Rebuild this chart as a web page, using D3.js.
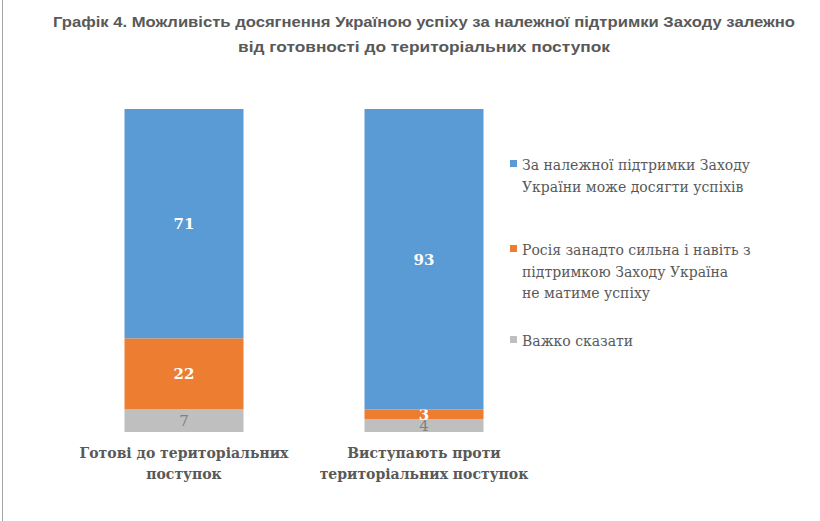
<!DOCTYPE html>
<html>
<head>
<meta charset="utf-8">
<script src="https://cdn.jsdelivr.net/npm/d3@7"></script>
<style>
  body { margin: 0; background: #fff; }
  .serif { font-family: "DejaVu Serif", "Liberation Serif", serif; }
</style>
</head>
<body>
<div id="app"></div>
<script>
// categories (x axis), one line per array entry
const categories = [
  ["Готові до територіальних", "поступок"],
  ["Виступають проти", "територіальних поступок"]
];
const seriesNames = [
  ["За належної підтримки Заходу", "України може досягти успіхів"],
  ["Росія занадто сильна і навіть з", "підтримкою Заходу Україна", "не матиме успіху"],
  ["Важко сказати"]
];
const successVals = [71, 93];
const russiaVals  = [22, 3];
const hardVals    = [7, 4];
const colors = ["#5b9bd5", "#ed7d31", "#bfbfbf"];
const titleLines = [
  "Графік 4. Можливість досягнення Україною успіху за належної підтримки Заходу залежно",
  "від готовності до територіальних поступок"
];

const W = 820, H = 521;
const m = { t: 109, b: 89, l: 125, r: 337 };

const svg = d3.select("#app").append("svg")
    .attr("width", W).attr("height", H);

svg.append("rect").attr("width", W).attr("height", H).attr("fill", "#fff");
// frame on the left edge
svg.append("line").attr("x1", 2.5).attr("x2", 2.5).attr("y1", 0).attr("y2", H)
    .attr("stroke", "#a6a6a6").attr("stroke-width", 1);

// title
svg.append("g").selectAll("text").data(titleLines).enter()
    .append("text")
    .attr("x", 424)
    .attr("y", (d, i) => 27 + i * 25)
    .attr("text-anchor", "middle")
    .attr("font-family", "'Liberation Sans', Arial, sans-serif")
    .attr("font-weight", "bold")
    .attr("font-size", "15.5px")
    .attr("fill", "#595959")
    .attr("textLength", (d, i) => i == 0 ? 742 : 372)
    .attr("lengthAdjust", "spacingAndGlyphs")
    .text(d => d);

// stacked data
const table = categories.map((c, i) => ({ i: i, s0: successVals[i], s1: russiaVals[i], s2: hardVals[i] }));
const stack = d3.stack().keys(["s2", "s1", "s0"]);
const layers = stack(table);
const keyIdx = { s0: 0, s1: 1, s2: 2 };

const xb = d3.scalePoint().domain([0, 1]).range([184, 424]);
const bw = 119;
const y = d3.scaleLinear().domain([0, 100]).range([H - m.b, m.t]);

const gBars = svg.append("g");
layers.forEach(layer => {
  const ci = keyIdx[layer.key];
  gBars.selectAll(null).data(layer).enter()
    .append("rect")
    .attr("x", (d, i) => xb(i) - bw / 2)
    .attr("y", d => y(d[1]))
    .attr("width", bw)
    .attr("height", d => y(d[0]) - y(d[1]))
    .attr("fill", colors[ci]);

  gBars.selectAll(null).data(layer).enter()
    .append("text")
    .attr("class", "serif")
    .attr("x", (d, i) => xb(i))
    .attr("y", d => (y(d[0]) + y(d[1])) / 2 + 5.5)
    .attr("text-anchor", "middle")
    .attr("font-size", "15px")
    .attr("font-weight", ci == 2 ? "normal" : "bold")
    .attr("fill", ci == 2 ? "#7f7f7f" : "#fff")
    .text(d => d[1] - d[0]);
});

// category labels
const gCat = svg.append("g");
categories.forEach((lines, i) => {
  gCat.selectAll(null).data(lines).enter()
    .append("text")
    .attr("class", "serif")
    .attr("x", xb(i))
    .attr("y", (d, j) => 458 + j * 21)
    .attr("text-anchor", "middle")
    .attr("font-size", "14px")
    .attr("font-weight", "bold")
    .attr("fill", "#595959")
    .text(d => d);
});

// legend
const legY = [165, 250, 341];
const gLeg = svg.append("g");
seriesNames.forEach((lines, i) => {
  gLeg.append("rect")
    .attr("x", 510).attr("y", legY[i] - 5)
    .attr("width", 7).attr("height", 7)
    .attr("fill", colors[i]);
  gLeg.selectAll(null).data(lines).enter()
    .append("text")
    .attr("class", "serif")
    .attr("x", 522)
    .attr("y", (d, j) => legY[i] + 5 + j * 21.5)
    .attr("font-size", "14px")
    .attr("fill", "#595959")
    .text(d => d);
});
</script>
</body>
</html>
